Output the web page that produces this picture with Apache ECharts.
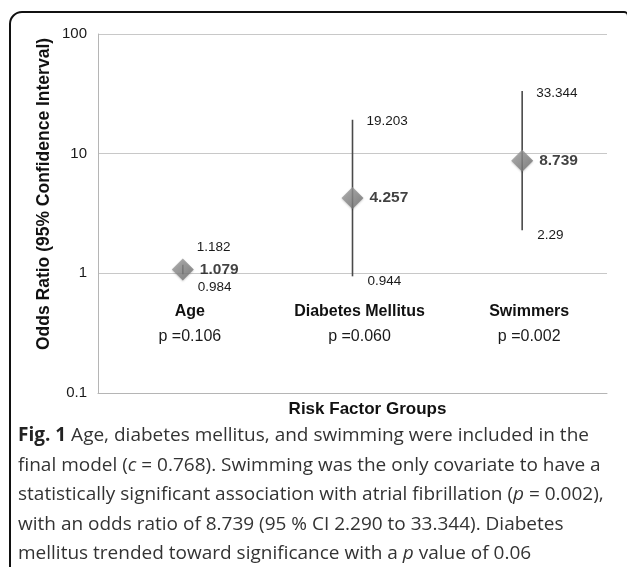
<!DOCTYPE html>
<html>
<head>
<meta charset="utf-8">
<script src="https://cdn.jsdelivr.net/npm/echarts@6/dist/echarts.min.js"></script>
<style>
  html, body { margin: 0; padding: 0; background: #fff; }
  #chart { width: 627px; height: 567px; }
</style>
</head>
<body>
<div id="chart"></div>
<script>
// data
const groups = ["Age", "Diabetes Mellitus", "Swimmers"];
const pValues = ["0.106", "0.060", "0.002"];
const oddsRatio = [1.079, 4.257, 8.739];
const ciLow = [0.984, 0.944, 2.29];
const ciHigh = [1.182, 19.203, 33.344];
const yTicks = [0.1, 1, 10, 100];

const caption =
  "{b|Fig. 1} Age, diabetes mellitus, and swimming were included in the\n" +
  "final model ({i|c} = 0.768). Swimming was the only covariate to have a\n" +
  "statistically significant association with atrial fibrillation ({i|p} = 0.002),\n" +
  "with an odds ratio of 8.739 (95 % CI 2.290 to 33.344). Diabetes\n" +
  "mellitus trended toward significance with a {i|p} value of 0.06";

document.addEventListener("DOMContentLoaded", function () {
  const chart = echarts.init(document.getElementById("chart"));
  const font = "Liberation Sans, Arial, sans-serif";
  const capFont = "Open Sans, sans-serif";
  const capSize = 19;

  const ciData = groups.map((g, i) => [i, ciLow[i], ciHigh[i], oddsRatio[i]]);

  const option = {
    animation: false,
    grid: { left: 98, right: 20, top: 34, bottom: 174 },
    xAxis: {
      type: "category",
      data: groups,
      name: "Risk Factor Groups",
      nameLocation: "middle",
      nameGap: 8,
      nameTextStyle: {
        fontFamily: font, fontWeight: "bold", fontSize: 17, color: "#111",
        verticalAlign: "top", padding: [0, 0, 0, 30]
      },
      axisLine: { lineStyle: { color: "#b5b5b5", width: 1 } },
      axisTick: { show: false },
      axisLabel: {
        margin: -94,
        interval: 0,
        padding: [0, 0, 0, 14],
        formatter: (v, i) => "{b|" + v + "}\n{p|p =" + pValues[i] + "}",
        rich: {
          b: { fontFamily: font, fontWeight: "bold", fontSize: 16, color: "#111", lineHeight: 25 },
          p: { fontFamily: font, fontSize: 16, color: "#1a1a1a", lineHeight: 25 }
        }
      }
    },
    yAxis: {
      type: "log",
      logBase: 10,
      min: yTicks[0],
      max: yTicks[yTicks.length - 1],
      axisLine: { show: true, lineStyle: { color: "#b5b5b5" } },
      axisTick: { show: false },
      axisLabel: { fontFamily: font, fontSize: 15, color: "#1a1a1a", margin: 11, formatter: v => String(v) },
      splitLine: { lineStyle: { color: "#c8c8c8", width: 1 } }
    },
    graphic: [
      {
        type: "rect",
        shape: { x: 10, y: 12, width: 618, height: 600, r: [12, 4, 0, 0] },
        style: { fill: "none", stroke: "#111", lineWidth: 2 },
        silent: true
      },
      {
        type: "text",
        x: 44, y: 194,
        rotation: Math.PI / 2,
        style: {
          text: "Odds Ratio (95% Confidence Interval)",
          fontFamily: font, fontWeight: "bold", fontSize: 17.5, fill: "#111",
          align: "center", verticalAlign: "middle"
        }
      },
      {
        type: "text",
        left: 18, top: 421,
        style: {
          text: caption,
          fontFamily: capFont, fontSize: capSize, fill: "#333", lineHeight: 29.5,
          rich: {
            b: { fontFamily: capFont, fontSize: capSize, fontWeight: "bold", fill: "#222", lineHeight: 29.5 },
            i: { fontFamily: capFont, fontSize: capSize, fontStyle: "italic", fill: "#333", lineHeight: 29.5 }
          }
        }
      }
    ],
    series: [
      {
        type: "custom",
        data: ciData,
        encode: { x: 0, y: [1, 2] },
        z: 2,
        renderItem: function (params, api) {
          const i = api.value(0);
          const lo = api.coord([i, api.value(1)]);
          const hi = api.coord([i, api.value(2)]);
          const mid = api.coord([i, api.value(3)]);
          const upY = Math.min(hi[1] + 2, mid[1] - 22);
          const dnY = Math.max(lo[1] + 5, mid[1] + 18);
          const ts = { fontFamily: font, fontSize: 13.5, fill: "#1a1a1a", verticalAlign: "middle" };
          return {
            type: "group",
            children: [
              {
                type: "line",
                shape: { x1: lo[0], y1: lo[1], x2: hi[0], y2: hi[1] },
                style: { stroke: "#4a4a4a", lineWidth: 1.6 }
              },
              { type: "text", x: hi[0] + 14, y: upY, style: Object.assign({ text: String(api.value(2)) }, ts) },
              { type: "text", x: lo[0] + 15, y: dnY, style: Object.assign({ text: String(api.value(1)) }, ts) }
            ]
          };
        }
      },
      {
        type: "scatter",
        data: oddsRatio.map((v, i) => [i, v]),
        symbol: "diamond",
        symbolSize: 22,
        z: 3,
        itemStyle: {
          color: new echarts.graphic.LinearGradient(0, 0, 1, 1, [
            { offset: 0, color: "#a5a5a5" },
            { offset: 1, color: "#6a6a6a" }
          ]),
          shadowColor: "rgba(0,0,0,0.25)",
          shadowBlur: 2,
          shadowOffsetY: 1
        },
        label: {
          show: true,
          position: "right",
          distance: 6,
          formatter: p => String(p.value[1]),
          fontFamily: font, fontWeight: "bold", fontSize: 15.5, color: "#111"
        }
      }
    ]
  };
  chart.setOption(option);
});
</script>
</body>
</html>
